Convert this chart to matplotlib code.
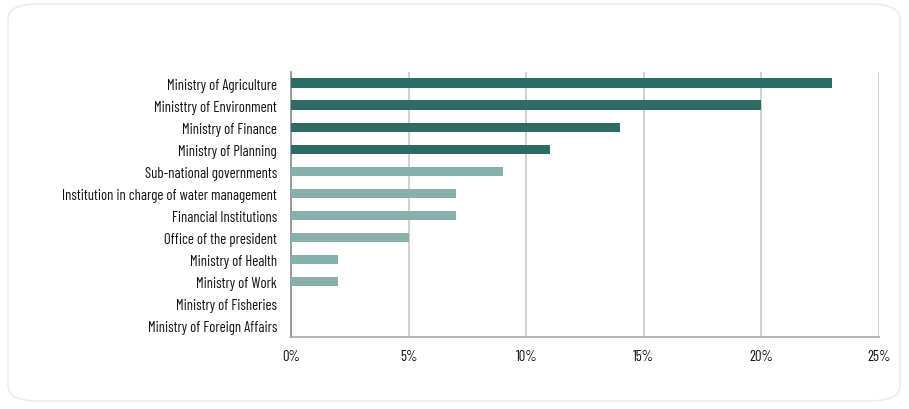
import matplotlib
matplotlib.use("Agg")
import matplotlib.pyplot as plt
from matplotlib.patches import FancyBboxPatch
from matplotlib.ticker import FuncFormatter

plt.rcParams['font.family'] = ['Barlow Condensed', 'DejaVu Sans']

institutions = [
    "Ministry of Agriculture",
    "Ministtry of Environment",
    "Ministry of Finance",
    "Ministry of Planning",
    "Sub-national governments",
    "Institution in charge of water management",
    "Financial Institutions",
    "Office of the president",
    "Ministry of Health",
    "Ministry of Work",
    "Ministry of Fisheries",
    "Ministry of Foreign Affairs",
]
shares = [23, 20, 14, 11, 9, 7, 7, 5, 2, 2, 0, 0]
n_dark = 4

dark = "#2d6b65"
light = "#87b0ad"
colors = [dark if i < n_dark else light for i in range(len(shares))]

fig = plt.figure(figsize=(9.09, 4.10), dpi=100)

# rounded card behind the chart
card = FancyBboxPatch((8 / 909, 8 / 410), 892 / 909, 397 / 410,
                      boxstyle="round,pad=0,rounding_size=0.035",
                      transform=fig.transFigure, facecolor="white",
                      edgecolor="#ececec", linewidth=1.2, zorder=-5)
fig.patches.append(card)

ax = fig.add_axes([291 / 909, 1 - 338 / 410, (879 - 291) / 909, (338 - 73) / 410])
ax.set_facecolor("none")
ax.set_zorder(2)

y = list(range(len(institutions)))
ax.barh(y, shares, height=0.42, color=colors, zorder=3)

ax.set_xlim(0, 25)
ax.set_ylim(len(institutions) - 0.5, -0.5)
ax.set_yticks(y)
ax.set_yticklabels(institutions, fontsize=10.6, color="#111111")
ax.set_xticks([0, 5, 10, 15, 20, 25])
ax.xaxis.set_major_formatter(FuncFormatter(lambda v, p: f"{v:.0f}%"))
ax.tick_params(axis="x", labelsize=10.6, colors="#111111", length=0, pad=9)
ax.tick_params(axis="y", length=0, pad=10)

ax.grid(axis="x", color="#c8c8c8", linewidth=1.2, zorder=0)
for s in ["top", "right"]:
    ax.spines[s].set_visible(False)
ax.spines["left"].set_color("#8c8c8c")
ax.spines["left"].set_linewidth(1.2)
ax.spines["bottom"].set_color("#a6a6a6")
ax.spines["bottom"].set_linewidth(1.2)

fig.savefig("out.png", dpi=100)
